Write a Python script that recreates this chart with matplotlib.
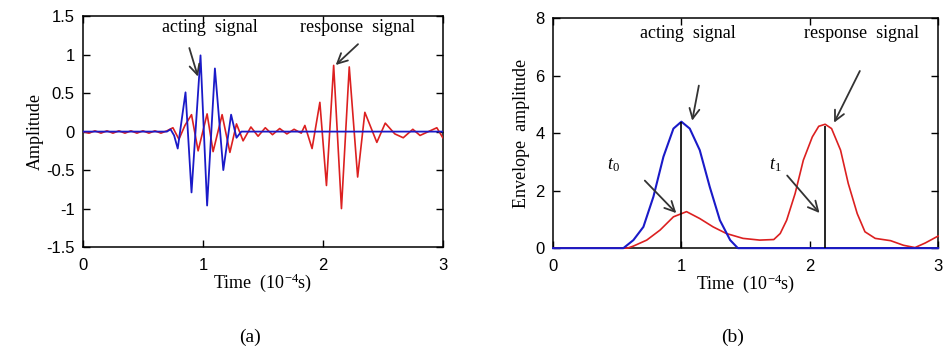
import numpy as np
import matplotlib
matplotlib.use('Agg')
import matplotlib.pyplot as plt
from matplotlib.ticker import FormatStrFormatter

plt.rcParams['font.family'] = ['Liberation Sans', 'DejaVu Sans']
plt.rcParams['mathtext.fontset'] = 'custom'
plt.rcParams['mathtext.rm'] = 'Liberation Serif'
plt.rcParams['mathtext.it'] = 'Liberation Serif:italic'
SERIF = ['Liberation Serif', 'DejaVu Serif']

# ---- (a) raw signals, time in 1e-4 s ----
act_t = [0, 0.70, 0.73, 0.76, 0.79, 0.855, 0.905, 0.98, 1.035, 1.10, 1.17, 1.235, 1.28, 1.32, 3.0]
act_y = [0, 0, 0.03, -0.05, -0.22, 0.51, -0.79, 0.99, -0.96, 0.82, -0.50, 0.22, -0.08, 0, 0]

resp_t = [0, 0.05, 0.1, 0.15, 0.2, 0.25, 0.3, 0.35, 0.4, 0.45, 0.5, 0.55, 0.6, 0.65, 0.7,
          0.75, 0.8, 0.85, 0.905, 0.96, 1.035, 1.085, 1.16, 1.225, 1.28, 1.335, 1.40, 1.46,
          1.52, 1.58, 1.64, 1.70, 1.76, 1.82, 1.85, 1.91, 1.975, 2.03, 2.09, 2.155, 2.22,
          2.29, 2.35, 2.45, 2.52, 2.60, 2.67, 2.75, 2.81, 2.88, 2.95, 3.0]
resp_y = [0.0, -0.02, 0.01, -0.02, 0.01, -0.02, 0.01, -0.02, 0.01, -0.02, 0.01, -0.02, 0.01,
          -0.02, 0.01, 0.05, -0.10, 0.08, 0.22, -0.25, 0.23, -0.26, 0.22, -0.27, 0.10, -0.12,
          0.06, -0.06, 0.05, -0.04, 0.04, -0.03, 0.03, -0.02, 0.08, -0.22, 0.38, -0.70, 0.86,
          -1.0, 0.84, -0.59, 0.25, -0.14, 0.11, -0.03, -0.08, 0.03, -0.05, 0.0, 0.05, -0.08]

# ---- (b) envelopes ----
env_act_t = [0, 0.548, 0.626, 0.704, 0.782, 0.86, 0.938, 1.0, 1.065, 1.143, 1.221, 1.30, 1.38, 1.44, 3.0]
env_act_y = [0, 0, 0.28, 0.74, 1.79, 3.18, 4.16, 4.40, 4.16, 3.41, 2.13, 0.97, 0.28, 0, 0]

env_resp_t = [0, 0.58, 0.625, 0.73, 0.834, 0.938, 1.04, 1.143, 1.247, 1.35, 1.48, 1.61, 1.72,
              1.77, 1.82, 1.886, 1.95, 2.02, 2.07, 2.12, 2.17, 2.24, 2.30, 2.37, 2.43, 2.51,
              2.63, 2.73, 2.82, 2.90, 3.0]
env_resp_y = [0, 0, 0.07, 0.28, 0.63, 1.09, 1.27, 1.03, 0.74, 0.51, 0.34, 0.28, 0.30,
              0.51, 0.97, 1.90, 3.06, 3.87, 4.24, 4.31, 4.16, 3.41, 2.25, 1.20, 0.57, 0.34,
              0.26, 0.10, 0.02, 0.18, 0.42]

t_marks = [1.0, 2.115]
t_tops = [4.40, 4.26]

BLUE = '#1a1ac8'
RED = '#dc2020'
ARROW = '#333333'

fig = plt.figure(figsize=(9.47, 3.5), dpi=100)
ax1 = fig.add_axes([0.0876, 0.294, 0.380, 0.66])
ax2 = fig.add_axes([0.584, 0.291, 0.4066, 0.657])

def style(ax):
    ax.tick_params(direction='in', top=True, right=True, labelsize=12, length=5, width=1)
    ax.tick_params(axis='x', pad=8)
    ax.tick_params(axis='y', pad=6)
    for s in ax.spines.values():
        s.set_linewidth(1.1)
    ax.set_xlim(0, 3)
    ax.set_xticks([0, 1, 2, 3])
    ax.xaxis.set_major_formatter(FormatStrFormatter('%g'))
    ax.yaxis.set_major_formatter(FormatStrFormatter('%g'))

# (a)
ax1.plot(resp_t, resp_y, color=RED, lw=1.2, zorder=3)
ax1.plot(act_t, act_y, color=BLUE, lw=1.3, zorder=3)
style(ax1)
ax1.set_ylim(-1.5, 1.5)
ax1.set_yticks([-1.5, -1, -0.5, 0, 0.5, 1, 1.5])
ax1.set_ylabel('Amplitude', family=SERIF, fontsize=13, labelpad=2)
ax1.set_xlabel('Time  (10$^{-4}$s)', family=SERIF, fontsize=13, labelpad=-1)
ax1.text(1.06, 1.35, 'acting  signal', family=SERIF, fontsize=13, ha='center', va='center')
ax1.text(2.29, 1.35, 'response  signal', family=SERIF, fontsize=13, ha='center', va='center')
arr = dict(arrowstyle='->', color=ARROW, lw=1.3, mutation_scale=18)
ax1.annotate('', xy=(0.965, 0.68), xytext=(0.88, 1.12), arrowprops=arr)
ax1.annotate('', xy=(2.09, 0.84), xytext=(2.31, 1.16), arrowprops=arr)

# (b)
ax2.plot(env_resp_t, env_resp_y, color=RED, lw=1.2, zorder=3, clip_on=False)
ax2.plot(env_act_t, env_act_y, color=BLUE, lw=1.5, zorder=3, clip_on=False)
ax2.vlines(t_marks, 0, t_tops, color='k', lw=1.2, zorder=4)
style(ax2)
ax2.set_ylim(0, 8)
ax2.set_yticks([0, 2, 4, 6, 8])
ax2.set_ylabel('Envelope  amplitude', family=SERIF, fontsize=13, labelpad=4)
ax2.set_xlabel('Time  (10$^{-4}$s)', family=SERIF, fontsize=13, labelpad=-1)
ax2.text(1.05, 7.48, 'acting  signal', family=SERIF, fontsize=13, ha='center', va='center')
ax2.text(2.40, 7.48, 'response  signal', family=SERIF, fontsize=13, ha='center', va='center')
ax2.annotate('', xy=(1.08, 4.34), xytext=(1.14, 5.75), arrowprops=arr)
ax2.annotate('', xy=(2.18, 4.28), xytext=(2.40, 6.25), arrowprops=arr)
ax2.text(0.47, 2.89, r'$\mathit{t_0}$', fontsize=13, ha='center', va='center')
ax2.text(1.73, 2.89, r'$\mathit{t_1}$', fontsize=13, ha='center', va='center')
ax2.annotate('', xy=(0.975, 1.15), xytext=(0.70, 2.42), arrowprops=arr)
ax2.annotate('', xy=(2.09, 1.15), xytext=(1.81, 2.60), arrowprops=arr)

fig.text(0.264, 0.037, '(a)', family=SERIF, fontsize=14, ha='center', va='center')
fig.text(0.774, 0.037, '(b)', family=SERIF, fontsize=14, ha='center', va='center')

fig.savefig('out.png', dpi=100)
